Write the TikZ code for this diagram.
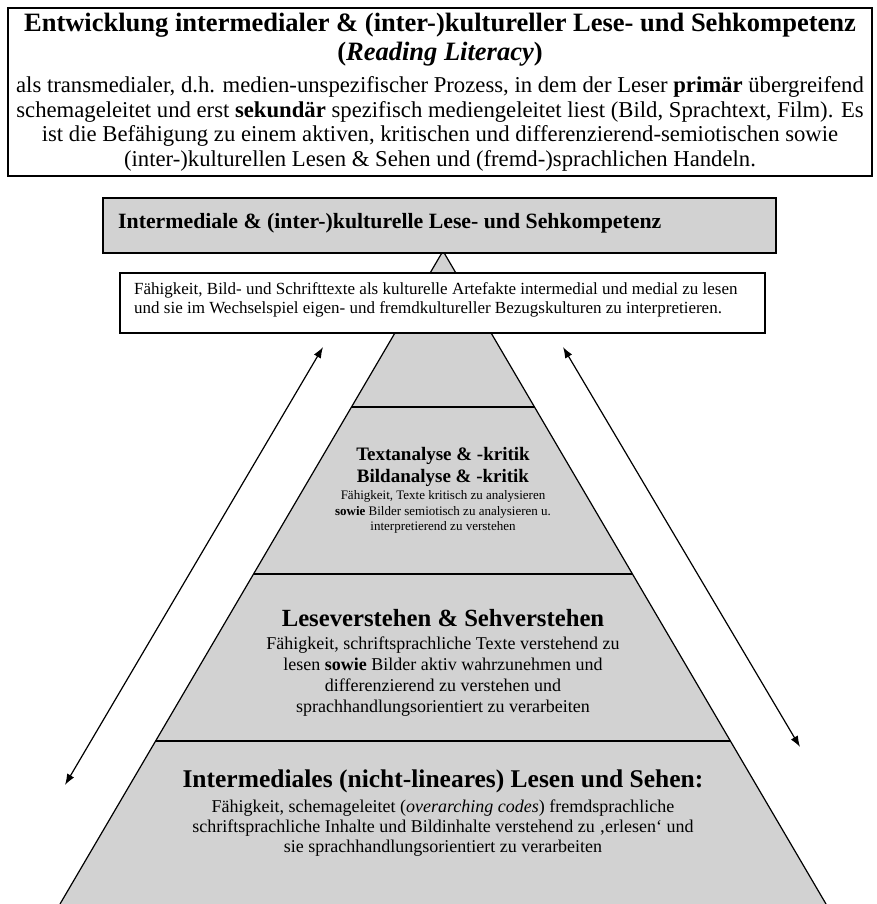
\documentclass[tikz,border=0pt]{standalone}
\usepackage{fontspec}
\setmainfont{Liberation Serif}
\usetikzlibrary{positioning,arrows.meta}

\newcommand{\fs}[2]{\fontsize{#1}{#2}\selectfont}

\begin{document}
\begin{tikzpicture}[x=1pt,y=-1pt,
    box/.style={draw=black,line width=1.5pt,minimum height=#1,inner sep=0pt},
    txt/.style={align=center,inner sep=0pt},
    arr/.style={{Latex[length=11pt,width=8pt]}-{Latex[length=11pt,width=8pt]},line width=1.2pt}]
	\useasboundingbox (0,0) rectangle (876,904);
	% pyramid
	\coordinate (apex) at (443,251);
	\coordinate (bl) at (60,904);
	\coordinate (br) at (826,904);
	\fill[gray!35] (apex) -- (br) -- (bl) -- cycle;
	\begin{scope}
		\clip (apex) -- (br) -- (bl) -- cycle;
		\foreach \y in {407,574,741} \draw[line width=1.8pt] (0,\y) -- (876,\y);
	\end{scope}
	\draw[line width=1.2pt] (bl) -- (apex) -- (br);
	% header box
	\node[box=168pt,minimum width=864pt,fill=white] (head) at (440,92) {};
	\node[txt,font=\fs{26.5}{29}\bfseries] (headtitle) at (440,40) {Entwicklung intermedialer \& (inter-)kultureller Lese- und Sehkompetenz\\ (\textit{Reading Literacy})};
	\node[txt,font=\fs{22.7}{24.5}] (headtext) at (440,124) {als transmedialer, d.h. medien-unspezifischer Prozess, in dem der Leser \textbf{primär} übergreifend\\ schemageleitet und erst \textbf{sekundär} spezifisch mediengeleitet liest (Bild, Sprachtext, Film). Es\\ ist die Befähigung zu einem aktiven, kritischen und differenzierend-semiotischen sowie\\ (inter-)kulturellen Lesen \& Sehen und (fremd-)sprachlichen Handeln.};
	% top of pyramid
	\node[box=55pt,minimum width=673pt,fill=gray!35] (kompetenz) at (439.5,225.5) {};
	\node[txt,anchor=west,font=\fs{21.8}{24}\bfseries] (kompetenztext) at (118,223) {Intermediale \& (inter-)kulturelle Lese- und Sehkompetenz};
	\node[box=60pt,minimum width=645pt,fill=white] (faehig) at (442.5,303) {};
	\node[txt,anchor=west,align=left,font=\fs{17}{19}] (faehigtext) at (134,300) {Fähigkeit, Bild- und Schrifttexte als kulturelle Artefakte intermedial und medial zu lesen\\ und sie im Wechselspiel eigen- und fremdkultureller Bezugskulturen zu interpretieren.};
	% levels
	\node[txt,font=\fs{19}{22}\bfseries] (analyse) at (443,467) {Textanalyse \& -kritik\\ Bildanalyse \& -kritik};
	\node[txt,font=\fs{13}{15.5}] (analysetext) at (443,512) {Fähigkeit, Texte kritisch zu analysieren\\ \textbf{sowie} Bilder semiotisch zu analysieren u.\\ interpretierend zu verstehen};
	\node[txt,font=\fs{24.7}{27}\bfseries] (verstehen) at (443,618) {Leseverstehen \& Sehverstehen};
	\node[txt,font=\fs{18}{21}] (verstehentext) at (443,677) {Fähigkeit, schriftsprachliche Texte verstehend zu\\ lesen \textbf{sowie} Bilder aktiv wahrzunehmen und\\ differenzierend zu verstehen und\\ sprachhandlungsorientiert zu verarbeiten};
	\node[txt,font=\fs{25.5}{28}\bfseries] (lesen) at (443,781) {Intermediales (nicht-lineares) Lesen und Sehen:};
	\node[txt,font=\fs{18}{20}] (lesentext) at (443,828) {Fähigkeit, schemageleitet (\textit{overarching codes}) fremdsprachliche\\ schriftsprachliche Inhalte und Bildinhalte verstehend zu ‚erlesen‘ und\\ sie sprachhandlungsorientiert zu verarbeiten};
	% arrows
	\coordinate (la) at (65,785);
	\coordinate (lb) at (323,347);
	\coordinate (ra) at (563,347);
	\coordinate (rb) at (800,747);
	\draw[arr] (la) -- (lb);
	\draw[arr] (ra) -- (rb);
\end{tikzpicture}
\end{document}
